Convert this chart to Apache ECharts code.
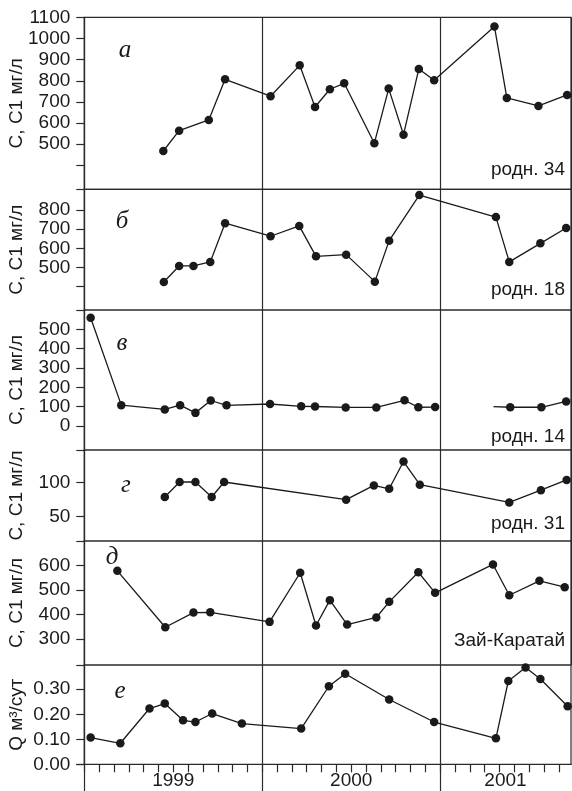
<!DOCTYPE html>
<html>
<head>
<meta charset="utf-8">
<script src="https://cdn.jsdelivr.net/npm/echarts@6/dist/echarts.min.js"></script>
<style>
  html, body { margin: 0; padding: 0; background: #fff; }
  #chart { width: 572px; height: 791px; }
</style>
</head>
<body>
<div id="chart"></div>
<script>
// ---- Sampling dates and chloride concentration / discharge ----

// а: родн. 34
const datesA = ['1999-06-11','1999-07-13','1999-09-13','1999-10-16','2000-01-18','2000-03-17','2000-04-18',
  '2000-05-18','2000-06-17','2000-08-18','2000-09-17','2000-10-17','2000-11-18','2000-12-19',
  '2001-04-21','2001-05-16','2001-07-20','2001-09-18'];
const valuesA = [468, 564, 615, 807, 727, 873, 676, 760, 788, 505, 763, 545, 856, 802, 1056, 719, 681, 733];

// б: родн. 18
const datesB = ['1999-06-12','1999-07-13','1999-08-12','1999-09-16','1999-10-16','2000-01-18','2000-03-16',
  '2000-04-20','2000-06-21','2000-08-19','2000-09-18','2000-11-19','2001-04-24','2001-05-21',
  '2001-07-24','2001-09-16'];
const valuesB = [424, 508, 508, 529, 731, 663, 717, 558, 567, 426, 640, 878, 763, 529, 626, 706];

// в: родн. 14 (two separate runs of observations)
const datesV1 = ['1999-01-14','1999-03-16','1999-06-14','1999-07-15','1999-08-16','1999-09-17','1999-10-19',
  '2000-01-17','2000-03-20','2000-04-18','2000-06-20','2000-08-22','2000-10-19','2000-11-17','2000-12-21'];
const valuesV1 = [560, 108, 86, 108, 68, 132, 107, 114, 102, 101, 96, 96, 133, 97, 98];
const datesV2 = ['2001-04-19','2001-05-23','2001-07-26','2001-09-16'];
const valuesV2 = [100, 97, 97, 127];
const unmarkedV2 = ['2001-04-19'];

// г: родн. 31
const datesG = ['1999-06-14','1999-07-14','1999-08-16','1999-09-19','1999-10-14','2000-06-21','2000-08-17',
  '2000-09-18','2000-10-17','2000-11-20','2001-05-21','2001-07-25','2001-09-17'];
const valuesG = [79, 101, 101, 79, 101, 75, 96, 91, 131, 97, 71, 89, 104];

// д: Зай-Каратай
const datesD = ['1999-03-08','1999-06-15','1999-08-12','1999-09-16','2000-01-16','2000-03-18','2000-04-20',
  '2000-05-18','2000-06-23','2000-08-22','2000-09-18','2000-11-17','2000-12-21','2001-04-18',
  '2001-05-21','2001-07-22','2001-09-13'];
const valuesD = [579, 348, 408, 409, 370, 571, 355, 459, 359, 388, 452, 573, 489, 605, 479, 538, 512];

// е: discharge Q, m3/day
const datesE = ['1999-01-14','1999-03-14','1999-05-13','1999-06-14','1999-07-21','1999-08-16','1999-09-20',
  '1999-11-20','2000-03-20','2000-05-16','2000-06-19','2000-09-18','2000-12-19','2001-04-24',
  '2001-05-19','2001-06-24','2001-07-24','2001-09-19'];
const valuesE = [0.107, 0.084, 0.223, 0.243, 0.176, 0.169, 0.203, 0.163, 0.143, 0.312, 0.362, 0.259,
  0.169, 0.104, 0.333, 0.387, 0.341, 0.232];

// Axis ticks and labels
const ticksA = [1100, 1000, 900, 800, 700, 600, 500, 400];
const labelsA = [1100, 1000, 900, 800, 700, 600, 500];
const ticksB = [800, 700, 600, 500, 400];
const labelsB = [800, 700, 600, 500];
const ticksV = [500, 400, 300, 200, 100, 0];
const labelsV = [500, 400, 300, 200, 100, 0];
const ticksG = [100, 50];
const labelsG = [100, 50];
const ticksD = [600, 500, 400, 300];
const labelsD = [600, 500, 400, 300];
const ticksE = [0.3, 0.2, 0.1, 0.0];
const labelsE = [0.3, 0.2, 0.1, 0.0];
const yearLabels = ['1999', '2000', '2001'];

const concName = 'С, С1 мг/л';
const flowName = 'Q м³/сут';
const panelLetters = ['а', 'б', 'в', 'г', 'д', 'е'];
const stationNames = ['родн. 34', 'родн. 18', 'родн. 14', 'родн. 31', 'Зай-Каратай'];

// Months elapsed since 1 Jan 1999 (x coordinate of the time axis)
function monthIndex(s) {
  const [y, m, d] = s.split('-').map(Number);
  return (y - 1999) * 12 + (m - 1) + (d - 1) / 30.4;
}
function pairs(dates, values, unmarked) {
  return dates.map((d, k) => {
    const item = { value: [monthIndex(d), values[k]] };
    if (unmarked && unmarked.includes(d)) item.symbol = 'none';
    return item;
  });
}

const INK = '#1a1a1a';
const FRAME = '#2a2a2a';
const FONT = 'Liberation Sans, Arial, sans-serif';
const X_MAX = 32.82;

// Panel layout (pixels) and value extents
const panels = [
  { top: 17.3,  height: 172.0, min: 287,   max: 1100,  ticks: ticksA, labels: labelsA, name: concName },
  { top: 189.3, height: 120.7, min: 278,   max: 908,   ticks: ticksB, labels: labelsB, name: concName },
  { top: 310.0, height: 140.0, min: -124,  max: 600,   ticks: ticksV, labels: labelsV, name: concName },
  { top: 450.0, height: 91.0,  min: 14.3,  max: 148,   ticks: ticksG, labels: labelsG, name: concName },
  { top: 541.0, height: 124.0, min: 193.5, max: 701,   ticks: ticksD, labels: labelsD, name: concName },
  { top: 665.0, height: 99.3,  min: 0,     max: 0.397, ticks: ticksE, labels: labelsE, name: flowName,
    fmt: v => v.toFixed(2) }
];

const grids = panels.map(p => ({
  left: 84.3, right: 1, top: p.top, height: p.height,
  show: true, borderColor: FRAME, borderWidth: 1.2, backgroundColor: 'transparent',
  containLabel: false, outerBoundsMode: 'none'
}));

const xAxes = panels.map((p, i) => ({
  type: 'value', gridIndex: i, min: 0, max: X_MAX, interval: 12,
  axisLine: { show: false }, axisTick: { show: false }, axisLabel: { show: false },
  splitLine: { show: true, lineStyle: { color: FRAME, width: 1.2 } }
}));
// bottom panel: year dividers continuing below the axis, year captions
xAxes[5] = {
  type: 'value', gridIndex: 5, min: 0, max: X_MAX, interval: 12, position: 'bottom',
  axisLine: { show: true, lineStyle: { color: FRAME, width: 1.2 } },
  axisTick: { show: true, length: 28, customValues: [0, 12, 24], lineStyle: { color: FRAME, width: 1.2 } },
  axisLabel: {
    customValues: [6, 18, 28.4], margin: 7, fontSize: 19, fontFamily: FONT, color: INK,
    formatter: v => yearLabels[Math.floor(v / 12)], hideOverlap: false
  },
  splitLine: { show: true, lineStyle: { color: FRAME, width: 1.2 } }
};
// monthly ticks
xAxes.push({
  type: 'value', gridIndex: 5, min: 0, max: X_MAX, interval: 1, position: 'bottom',
  axisLine: { show: true, lineStyle: { color: FRAME, width: 1.2 } },
  axisTick: { show: true, length: 8, lineStyle: { color: FRAME, width: 1.2 },
    customValues: Array.from({ length: 33 }, (_, k) => k) },
  axisLabel: { show: false }, splitLine: { show: false }
});

const yAxes = panels.map((p, i) => ({
  type: 'value', gridIndex: i, min: p.min, max: p.max,
  name: p.name, nameLocation: 'middle', nameGap: 58, nameMoveOverlap: false,
  nameTextStyle: { fontSize: 19, fontFamily: FONT, color: INK },
  axisLine: { show: true, lineStyle: { color: FRAME, width: 1.2 } },
  axisTick: { show: true, length: 8, customValues: p.ticks.concat([p.min]),
    lineStyle: { color: FRAME, width: 1.2 } },
  axisLabel: { customValues: p.labels, margin: 14, fontSize: 19, fontFamily: FONT, color: INK,
    formatter: p.fmt || (v => String(v)), hideOverlap: false, showMinLabel: true, showMaxLabel: true },
  splitLine: { show: false }
}));

function lineSeries(idx, data) {
  return {
    type: 'line', xAxisIndex: idx, yAxisIndex: idx, data: data,
    symbol: 'circle', symbolSize: 8.5, showAllSymbol: true,
    lineStyle: { color: INK, width: 1.3 }, itemStyle: { color: INK },
    animation: false, silent: true
  };
}

const series = [
  lineSeries(0, pairs(datesA, valuesA)),
  lineSeries(1, pairs(datesB, valuesB)),
  lineSeries(2, pairs(datesV1, valuesV1)),
  lineSeries(2, pairs(datesV2, valuesV2, unmarkedV2)),
  lineSeries(3, pairs(datesG, valuesG)),
  lineSeries(4, pairs(datesD, valuesD)),
  lineSeries(5, pairs(datesE, valuesE))
];

// Panel letters and station captions
const letterPos = [[125, 50], [122, 221], [122, 343], [126, 485], [112, 557], [120, 691]];
const stationPos = [170, 290, 437, 524, 641];
const graphics = [];
panelLetters.forEach((t, i) => graphics.push({
  type: 'text', x: letterPos[i][0], y: letterPos[i][1],
  style: { text: t, font: 'italic 25px "Liberation Serif", "Times New Roman", serif',
    fill: INK, align: 'center', verticalAlign: 'middle' }
}));
stationNames.forEach((t, i) => graphics.push({
  type: 'text', x: 565, y: stationPos[i],
  style: { text: t, font: '19px ' + FONT, fill: INK, align: 'right', verticalAlign: 'middle' }
}));

const chart = echarts.init(document.getElementById('chart'), null, { renderer: 'canvas' });
chart.setOption({
  animation: false,
  backgroundColor: '#fff',
  grid: grids,
  xAxis: xAxes,
  yAxis: yAxes,
  series: series,
  graphic: graphics
});
</script>
</body>
</html>
